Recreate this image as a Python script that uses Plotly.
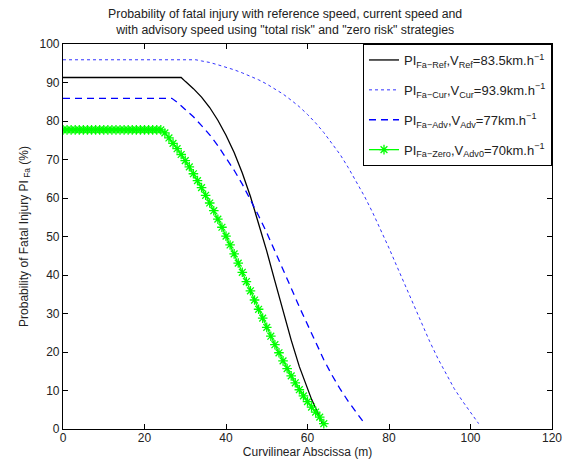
import plotly.graph_objects as go

# Reference speed curve (V_Ref = 83.5 km/h)
ref_x = [0, 29, 30, 32, 34, 36, 38, 40, 42, 44, 46, 48, 50, 52, 54, 56, 58, 60, 61, 62, 63, 63.7]
ref_y = [91.3, 91.3, 90.3, 88.4, 86.2, 83.5, 80.2, 76.3, 71.8, 66.5, 60.4, 53.6, 46.2, 38.4,
         30.6, 23.1, 16.2, 10.3, 7.7, 5.4, 3.2, 1.3]

# Current speed curve (V_Cur = 93.9 km/h)
cur_x = [0, 32.6, 34, 36, 38, 40, 42, 44, 46, 48, 50, 52, 54, 56, 58, 60, 62, 64, 66, 68, 70,
         72, 74, 76, 78, 80, 82, 84, 86, 88, 90, 92, 94, 96, 98, 99, 100, 101, 102]
cur_y = [95.9, 95.9, 95.6, 95.2, 94.6, 94.0, 93.3, 92.5, 91.7, 90.7, 89.6, 88.4, 87.0, 85.4,
         83.7, 81.7, 79.5, 77.0, 74.3, 71.3, 67.9, 64.3, 60.4, 56.2, 51.7, 47.0, 42.1, 37.2,
         32.2, 27.4, 22.7, 18.3, 14.2, 10.5, 7.3, 5.8, 4.4, 3.1, 1.4]

# Advisory speed curve, "total risk" (V_Adv = 77 km/h)
adv_x = [0, 26.7, 28, 30, 32, 34, 36, 38, 40, 42, 44, 46, 48, 50, 52, 54, 56, 58, 60, 62, 64,
         66, 68, 70, 71, 72, 73, 74]
adv_y = [85.9, 85.9, 84.9, 83.1, 81.1, 78.8, 76.4, 73.6, 70.5, 67.2, 63.6, 59.6, 55.4, 51.0,
         46.3, 41.5, 36.6, 31.7, 27.0, 22.4, 18.0, 14.0, 10.4, 7.2, 5.8, 4.4, 3.1, 1.4]

# Advisory speed curve, "zero risk" (V_Adv0 = 70 km/h), sampled every metre
zero_x = list(range(0, 65))
zero_y = [77.7] * 25 + [
    76.9, 75.6, 74.2, 72.8, 71.3, 69.7, 68.1, 66.3, 64.5, 62.7,
    60.7, 58.7, 56.7, 54.5, 52.4, 50.1, 47.8, 45.5, 43.1, 40.7,
    38.3, 35.9, 33.5, 31.1, 28.8, 26.4, 24.1, 21.9, 19.8, 17.7,
    15.7, 13.8, 12.0, 10.2, 8.6, 7.1, 5.7, 4.4, 3.1, 1.4]

names = [
    "PI<sub>Fa−Ref</sub>,V<sub>Ref</sub>=83.5km.h<sup>−1</sup>",
    "PI<sub>Fa−Cur</sub>,V<sub>Cur</sub>=93.9km.h<sup>−1</sup>",
    "PI<sub>Fa−Adv</sub>,V<sub>Adv</sub>=77km.h<sup>−1</sup>",
    "PI<sub>Fa−Zero</sub>,V<sub>Adv0</sub>=70km.h<sup>−1</sup>",
]

fig = go.Figure()
fig.add_trace(go.Scatter(x=ref_x, y=ref_y, mode="lines", name=names[0], legendgroup="a",
                         line=dict(color="black", width=1.3)))
fig.add_trace(go.Scatter(x=cur_x, y=cur_y, mode="lines", name=names[1], legendgroup="b",
                         line=dict(color="#3333ff", width=1, dash="dot")))
fig.add_trace(go.Scatter(x=adv_x, y=adv_y, mode="lines", name=names[2], legendgroup="c",
                         line=dict(color="#0000ff", width=1.3, dash="7px,5px")))
fig.add_trace(go.Scatter(x=zero_x, y=zero_y, mode="lines+markers", name=names[3],
                         legendgroup="d",
                         line=dict(color="#00ff00", width=1.3),
                         marker=dict(symbol="asterisk-open", size=8,
                                     line=dict(color="#00ff00", width=1.3))))

axis_common = dict(showgrid=False, zeroline=False, showline=True, linecolor="black",
                   linewidth=1.2, mirror="ticks", ticks="inside", ticklen=5,
                   tickcolor="black", tickfont=dict(size=12, color="#222"),
                   automargin=False)

fig.update_layout(
    width=581, height=473,
    margin=dict(l=55, r=37, t=36, b=52),
    paper_bgcolor="white", plot_bgcolor="white",
    font=dict(family="Liberation Sans, Arial, sans-serif", color="#222", size=12),
    title=dict(text="Probability of fatal injury with reference speed, current speed and<br>"
                    "with advisory speed using \"total risk\" and \"zero risk\" strategies",
               x=0.477, xanchor="center", y=0.979, yanchor="top",
               font=dict(size=12.3, color="#222")),
    xaxis=dict(range=[0, 120], dtick=20, ticklabelstandoff=-3,
               title=dict(text="Curvilinear Abscissa (m)", standoff=4, font=dict(size=12)),
               **axis_common),
    yaxis=dict(range=[0, 100], dtick=10, title=dict(
               text="Probability of Fatal Injury PI<sub> Fa</sub> (%)",
               standoff=8, font=dict(size=12)), **axis_common),
    legend=dict(x=1, xanchor="right", y=1, yanchor="top", bgcolor="white",
                bordercolor="black", borderwidth=1, font=dict(size=13),
                tracegroupgap=10, itemwidth=30),
    showlegend=True,
)

fig.write_html("out.html")
